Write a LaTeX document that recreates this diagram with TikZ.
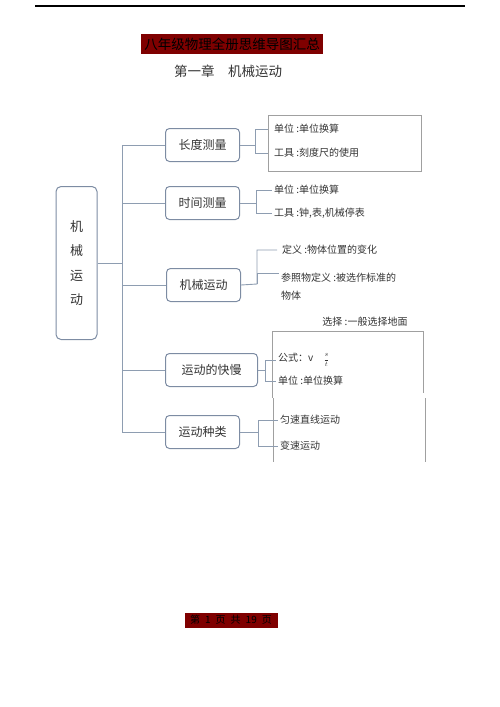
\documentclass[tikz,border=0pt]{standalone}
\usepackage{fontspec}
\newfontfamily\cjk{Noto Sans CJK SC}
\definecolor{linec}{HTML}{8E9DB1}
\definecolor{boxc}{HTML}{7D8CA3}
\definecolor{framec}{HTML}{A0A0A0}
\definecolor{banner}{HTML}{7F0000}
\definecolor{textc}{HTML}{333333}
\tikzset{
  topic/.style={draw=boxc, line width=1pt, rounded corners=4pt, anchor=west, minimum height=33pt, inner xsep=13pt, text=textc, font=\cjk\fontsize{12}{14}\selectfont},
  leaf/.style={anchor=west, inner sep=2pt, text=textc, font=\cjk\fontsize{10}{11}\selectfont},
  link/.style={draw=linec, line width=0.9pt},
  frame/.style={draw=framec, line width=0.6pt},
}
\begin{document}
\begin{tikzpicture}[x=1pt,y=-1pt]
      \useasboundingbox (0,0) rectangle (500,707);
      \draw[line width=1.2pt] (35,6) -- (465,6);
      \node[fill=banner, minimum width=182pt, minimum height=20pt, inner sep=0pt, font=\cjk\fontsize{13.5}{15}\selectfont] (banner) at (232,44){八年级物理全册思维导图汇总};
      \node[text=textc, font=\cjk\fontsize{13.5}{15}\selectfont] (title) at (228,71){第一章\quad 机械运动};

      \node[draw=boxc, line width=1pt, rounded corners=5pt, minimum width=41pt, minimum height=153pt, align=center, text=textc, font=\cjk\fontsize{13}{24.5}\selectfont] (main) at (76.5,263){机\\械\\运\\动};
      \coordinate (trunk) at (122,0);

      \node[topic] (len) at (165,145){长度测量};
      \node[topic] (time) at (165,203){时间测量};
      \node[topic] (mech) at (166,285){机械运动};
      \node[topic, inner xsep=16pt] (speed) at (165,370){运动的快慢};
      \node[topic] (kind) at (165,432){运动种类};

      \draw[link] (main.east) -- (main.east -| trunk);
      \draw[link] (len.west) -- (len.west -| trunk) -- (kind.west -| trunk) -- (kind.west);
      \draw[link] (time.west) -- (time.west -| trunk);
      \draw[link] (mech.west) -- (mech.west -| trunk);
      \draw[link] (speed.west) -- (speed.west -| trunk);

      \draw[frame] (268,115) rectangle (421,171);
      \node[leaf, inner xsep=6pt] (len1) at (268,129){单位 :单位换算};
      \node[leaf, inner xsep=6pt] (len2) at (268,153){工具 :刻度尺的使用};
      \draw[link] (len.east) -- (255,145) coordinate (lenj) |- (len1.west);
      \draw[link] (lenj) |- (len2.west);

      \node[leaf] (time1) at (272,190){单位 :单位换算};
      \node[leaf] (time2) at (272,213){工具 :钟,表,机械停表};
      \draw[link] (time.east) -- (256,203) coordinate (timej) |- (time1.west);
      \draw[link] (timej) |- (time2.west);

      \node[leaf, inner xsep=5pt] (mech1) at (277,250){定义 :物体位置的变化};
      \node[leaf, anchor=north west, align=left, font=\cjk\fontsize{10}{18}\selectfont] (mech2) at (279,271){参照物定义 :被选作标准的\\物体};
      \draw[link] (mech.east) -- (257,284) coordinate (mechj) |- (mech1.west);
      \draw[link] (mechj) |- ([yshift=-2pt]mech2.north west);

      \node[leaf, anchor=center] (choose) at (365,322){选择 :一般选择地面};
      \draw[frame] (272,398) -- (272,331) -- (423,331) -- (423,393);
      \node[leaf] (speed1) at (276,360){公式：v\quad{\fontsize{7}{7}\selectfont$\displaystyle\frac{s}{t}$}};
      \node[leaf] (speed2) at (276,381){单位 :单位换算};
      \draw[link] (speed.east) -- (265,370) coordinate (speedj) |- (speed1.west);
      \draw[link] (speedj) |- (speed2.west);

      \draw[frame] (273,398) -- (273,462);
      \draw[frame] (425,398) -- (425,462);
      \node[leaf] (kind1) at (278,420){匀速直线运动};
      \node[leaf] (kind2) at (278,446){变速运动};
      \draw[link] (kind.east) -- (258,432) coordinate (kindj) |- (kind1.west);
      \draw[link] (kindj) |- (kind2.west);

      \node[fill=banner, minimum width=93pt, minimum height=15pt, inner sep=0pt, font=\cjk\fontsize{10}{11}\selectfont] (footer) at (231,620){第\hspace{5pt}1\hspace{5pt}页\hspace{5pt}共\hspace{5pt}19\hspace{5pt}页};
    \end{tikzpicture}
\end{document}
